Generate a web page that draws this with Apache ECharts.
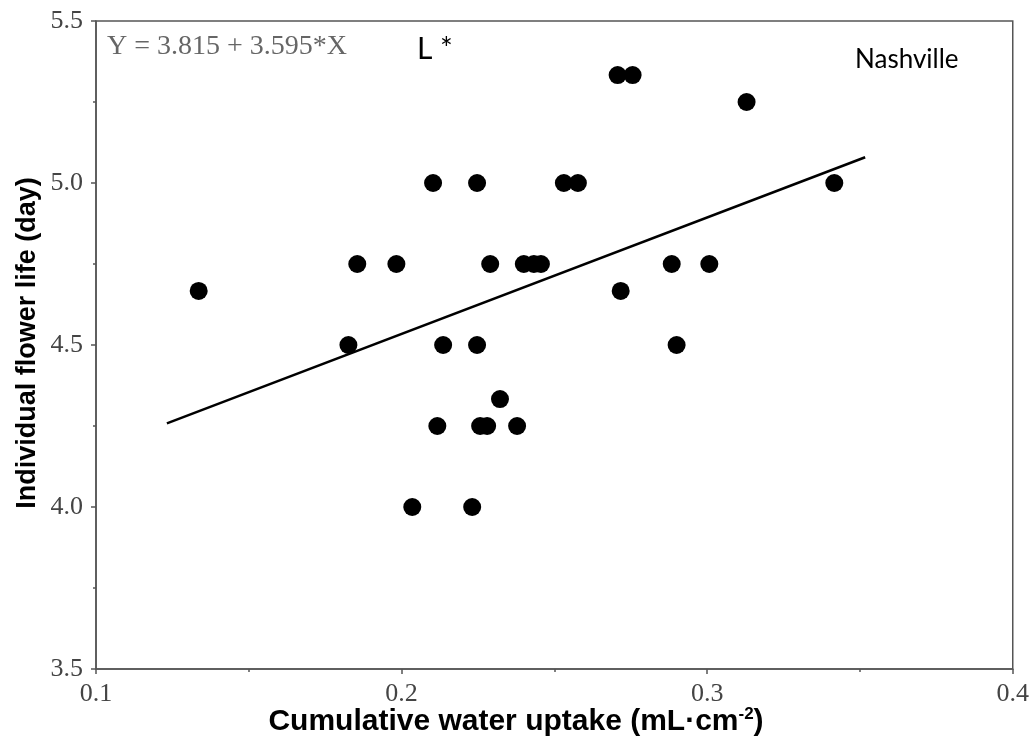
<!DOCTYPE html>
<html>
<head>
<meta charset="utf-8">
<script src="https://cdn.jsdelivr.net/npm/echarts@6/dist/echarts.min.js"></script>
<style>html,body{margin:0;padding:0;background:#fff}#c{width:1032px;height:746px}</style>
</head>
<body>
<div id="c"></div>
<script>
// Data
const waterUptake = [0.1336, 0.1826, 0.1855, 0.1983, 0.2035, 0.2103, 0.2117, 0.2136, 0.2231, 0.2247, 0.2247,
  0.2257, 0.2280, 0.2290, 0.2322, 0.2378, 0.2400, 0.2433, 0.2456, 0.2531, 0.2577, 0.2707, 0.2756,
  0.2717, 0.2884, 0.2900, 0.3007, 0.3129, 0.3416];
const flowerLife = [4.667, 4.5, 4.75, 4.75, 4.0, 5.0, 4.25, 4.5, 4.0, 5.0, 4.5,
  4.25, 4.25, 4.75, 4.333, 4.25, 4.75, 4.75, 4.75, 5.0, 5.0, 5.333, 5.333,
  4.667, 4.75, 4.5, 4.75, 5.25, 5.0];
const regIntercept = 3.815;
const regSlope = 3.595;
const regRange = [0.1232, 0.3517];
const xTicks = [0.1, 0.2, 0.3, 0.4];
const yTicks = [3.5, 4.0, 4.5, 5.0, 5.5];
const xTitle = 'Cumulative water uptake (mL·cm{sup|-2})';
const yTitle = 'Individual flower life (day)';
const equationText = 'Y = 3.815 + 3.595*X';
const sigText = 'L *';
const siteText = 'Nashville';

const points = waterUptake.map((x, i) => [x, flowerLife[i]]);
const regLine = regRange.map(x => [x, regIntercept + regSlope * x]);

const chart = echarts.init(document.getElementById('c'));
const axisCol = '#555';
const tickFont = {fontFamily: '"Liberation Serif", "DejaVu Serif", serif', fontSize: 26, color: '#444'};
const boldSans = '"Liberation Sans", Arial, sans-serif';

chart.setOption({
  animation: false,
  backgroundColor: '#fff',
  grid: {left: 96, right: 16, top: 21, bottom: 77, show: true, borderColor: axisCol, borderWidth: 1.5, backgroundColor: 'transparent'},
  xAxis: {
    type: 'value', min: xTicks[0], max: xTicks[xTicks.length - 1], interval: 0.1,
    axisLine: {show: true, lineStyle: {color: axisCol, width: 1.5}},
    axisTick: {show: true, length: 5, lineStyle: {color: axisCol, width: 1.5}},
    minorTick: {show: true, splitNumber: 2, length: 3, lineStyle: {color: axisCol, width: 1.5}},
    splitLine: {show: false},
    axisLabel: Object.assign({margin: 12, formatter: v => v.toFixed(1)}, tickFont)
  },
  yAxis: {
    type: 'value', min: yTicks[0], max: yTicks[yTicks.length - 1], interval: 0.5,
    axisLine: {show: true, lineStyle: {color: axisCol, width: 1.5}},
    axisTick: {show: true, length: 5, lineStyle: {color: axisCol, width: 1.5}},
    minorTick: {show: true, splitNumber: 2, length: 3, lineStyle: {color: axisCol, width: 1.5}},
    splitLine: {show: false},
    axisLabel: Object.assign({margin: 13, formatter: v => v.toFixed(1)}, tickFont)
  },
  graphic: [
    {type: 'text', x: 516, y: 722, style: {text: xTitle, align: 'center', verticalAlign: 'middle',
      fill: '#000', font: 'bold 30px ' + boldSans,
      rich: {sup: {font: 'bold 17px ' + boldSans, fill: '#000', verticalAlign: 'top', padding: [0, 0, 15, 0]}}}},
    {type: 'text', x: 28, y: 343, rotation: Math.PI / 2, style: {text: yTitle, align: 'center', verticalAlign: 'middle',
      fill: '#000', font: 'bold 27px ' + boldSans}},
    {type: 'text', left: 107, top: 33, style: {text: equationText, fill: '#666', font: '28px "Liberation Serif", serif'}},
    {type: 'text', left: 417, top: 34, style: {text: sigText, fill: '#000', font: '30px Lato, "Liberation Sans", sans-serif'}},
    {type: 'text', left: 855, top: 47, style: {text: siteText, fill: '#000', font: '26px Lato, "Open Sans", sans-serif'}}
  ],
  series: [
    {type: 'scatter', data: points, symbol: 'circle', symbolSize: 18, itemStyle: {color: '#000', opacity: 1}, z: 3},
    {type: 'line', data: regLine, showSymbol: false, symbol: 'none', lineStyle: {color: '#000', width: 2.5}, z: 2}
  ]
});
</script>
</body>
</html>
